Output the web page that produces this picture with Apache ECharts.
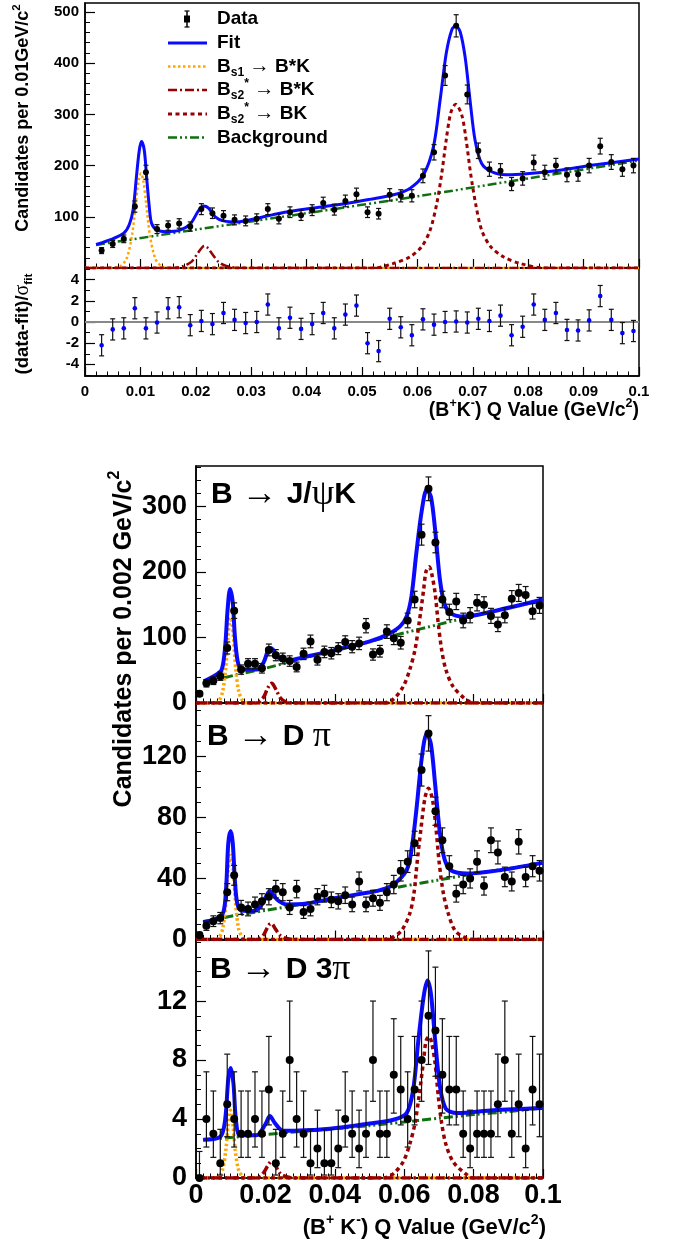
<!DOCTYPE html>
<html><head><meta charset="utf-8">
<script src="https://cdn.jsdelivr.net/npm/echarts@6/dist/echarts.min.js"></script>
<style>html,body{margin:0;padding:0;background:#fff}#c{width:681px;height:1245px}</style>
</head><body><div id="c"></div>
<script>
// ---------------- DATA ----------------
// Top panel (all B+K- combined)
const topX = [0.003,0.005,0.007,0.009,0.011,0.013,0.015,0.017,0.019,0.021,0.023,0.025,0.027,0.029,0.031,0.033,0.035,0.037,0.039,0.041,0.043,0.045,0.047,0.049,0.051,0.053,0.055,0.057,0.059,0.061,0.063,0.065,0.067,0.069,0.071,0.073,0.075,0.077,0.079,0.081,0.083,0.085,0.087,0.089,0.091,0.093,0.095,0.097,0.099];
const topCounts = [34,47,57,120,187,76,83,87,81,115,107,102,94,92,96,115,96,109,103,113,127,114,131,144,109,106,143,141,141,180,226,376,473,339,229,193,190,164,175,206,187,200,182,183,200,238,207,193,200];
const topErr = [5.8,6.9,7.5,11,13.7,8.7,9.1,9.3,9,10.7,10.3,10.1,9.7,9.6,9.8,10.7,9.8,10.4,10.1,10.6,11.3,10.7,11.4,12,10.4,10.3,12,11.9,11.9,13.4,15,19.4,21.7,18.4,15.1,13.9,13.8,12.8,13.2,14.4,13.7,14.1,13.5,13.5,14.1,15.4,14.4,13.9,14.1];
const resVals = [-2.2,-0.7,-0.6,1.3,-0.6,-0.05,1.3,1.4,-0.3,0.1,-0.2,0.85,0.2,-0.1,0,1.65,-0.6,0.4,-0.65,-0.2,0.85,-0.6,0.7,1.55,-2.0,-2.75,0.3,-0.5,-1.25,0.25,-0.25,0,0.05,-0.05,0.3,0.1,0.6,-1.25,-0.45,1.65,0.2,0.85,-0.75,-0.8,0.15,2.45,0.2,-1.05,-0.85];
const resErr = [1,1,1,1,1,1,1,1,1,1,1,1,1,1,1,1,1,1,1,1,1,1,1,1,1,1,1,1,1,1,1,1,1,1,1,1,1,1,1,1,1,1,1,1,1,1,1,1,1];
const resZero = [[0,0],[0.1,0]];

const topFit = [[0.002,46],[0.005,57],[0.007,68],[0.008,85],[0.0087,115],[0.0093,180],[0.0098,230],[0.0102,247],[0.0107,230],[0.0111,180],[0.0116,120],[0.012,88],[0.0129,75],[0.0147,71],[0.0171,74],[0.019,86],[0.0205,112],[0.0214,121],[0.0223,117],[0.0235,100],[0.025,92],[0.0274,90],[0.031,97],[0.0352,107],[0.0412,117],[0.0472,126],[0.0514,134],[0.0557,143],[0.0587,156],[0.0611,182],[0.0629,237],[0.0641,328],[0.0652,419],[0.0662,465],[0.0669,473],[0.0677,462],[0.0686,413],[0.0695,328],[0.0704,250],[0.0716,204],[0.0734,188],[0.0761,182],[0.0797,184],[0.0857,191],[0.0918,201],[0.1,213]];
const topBkg = [[0.002,45],[0.02,75],[0.04,107],[0.06,140],[0.08,175],[0.1,210]];
const topBs1 = [[0,0],[0.005,0],[0.0063,3],[0.0075,18],[0.0085,65],[0.0092,130],[0.0097,172],[0.0101,185],[0.0105,172],[0.011,130],[0.0117,65],[0.0127,18],[0.0139,3],[0.0155,0],[0.1,0]];
const topBs2BstarK = [[0,0],[0.016,0],[0.0178,4],[0.0192,12],[0.0203,28],[0.0212,41],[0.0216,43],[0.0221,40],[0.023,27],[0.0241,12],[0.0255,4],[0.028,0],[0.1,0]];
const topBs2BK = [[0,0],[0.052,0],[0.0557,9],[0.0587,22],[0.0608,42],[0.0623,74],[0.0635,126],[0.0644,185],[0.0652,250],[0.066,302],[0.0669,320],[0.068,299],[0.0688,250],[0.0696,185],[0.0705,126],[0.0716,74],[0.0732,42],[0.0755,22],[0.0785,9],[0.083,0],[0.1,0]];

// Lower panels (per decay mode)
const lowX = [0.001,0.003,0.005,0.007,0.009,0.011,0.013,0.015,0.017,0.019,0.021,0.023,0.025,0.027,0.029,0.031,0.033,0.035,0.037,0.039,0.041,0.043,0.045,0.047,0.049,0.051,0.053,0.055,0.057,0.059,0.061,0.063,0.065,0.067,0.069,0.071,0.073,0.075,0.077,0.079,0.081,0.083,0.085,0.087,0.089,0.091,0.093,0.095,0.097,0.099];

const jpsiCounts = [14,30,34,41,84,141,51,60,60,53,81,73,68,64,55,75,94,66,78,76,83,93,86,91,118,74,79,109,99,92,126,158,257,327,245,158,139,155,126,134,153,150,133,120,134,159,168,165,140,149];
const jpsiErr = [3.7,5.5,5.8,6.4,9.2,11.9,7.1,7.7,7.7,7.3,9,8.5,8.2,8,7.4,8.7,9.7,8.1,8.8,8.7,9.1,9.6,9.3,9.5,10.9,8.6,8.9,10.4,9.9,9.6,11.2,12.6,16,18.1,15.7,12.6,11.8,12.4,11.2,11.6,12.4,12.2,11.5,11,11.6,12.6,13,12.8,11.8,12.2];
const jpsiFit = [[0.0023,33],[0.0054,41.7],[0.0074,51],[0.0084,86],[0.0091,142],[0.0098,174],[0.0106,153],[0.0112,102],[0.012,64],[0.0131,52],[0.0174,51],[0.0194,61],[0.0213,84],[0.0221,82],[0.0237,69],[0.0261,65],[0.0319,71],[0.0395,80],[0.0501,94],[0.055,104],[0.0588,117],[0.0607,132],[0.0621,163],[0.0635,229],[0.0651,295],[0.0665,326],[0.0677,315],[0.0689,265],[0.0703,188],[0.0717,150],[0.0737,136],[0.0771,132],[0.0856,140],[0.0999,158]];
const jpsiBkg = [[0.002,30],[0.01,41],[0.02,53],[0.03,67],[0.04,81],[0.05,94],[0.06,107],[0.07,120],[0.08,133],[0.09,145],[0.1,157]];
const jpsiBs1 = [[0,0],[0.0055,0],[0.0066,3],[0.0077,18],[0.0086,55],[0.0092,100],[0.0097,127],[0.01,130],[0.0103,127],[0.0108,100],[0.0114,55],[0.0123,18],[0.0135,3],[0.0147,0],[0.1,0]];
const jpsiBs2BstarK = [[0,0],[0.017,0],[0.0185,3],[0.0196,10],[0.0206,22],[0.0214,29],[0.0218,30],[0.0223,28],[0.0232,19],[0.0243,8],[0.0258,2],[0.028,0],[0.1,0]];
const jpsiBs2BK = [[0,0],[0.054,0],[0.0569,6],[0.0597,25],[0.0616,51],[0.0631,81],[0.0643,122],[0.0656,173],[0.0663,201],[0.0672,208],[0.0679,198],[0.0689,168],[0.0698,122],[0.0708,81],[0.072,51],[0.0741,25],[0.0776,6],[0.08,0],[0.1,0]];

const dpiCounts = [3,9,12,14,31,42,21,20,23,25,28,33,31,21,33,18,20,28,30,26,25,29,23,38,23,27,24,31,36,45,51,63,111,135,84,65,48,30,36,40,51,35,65,57,41,38,64,41,48,45];
const dpiErr = [1.7,3,3.5,3.7,5.6,6.5,4.6,4.5,4.8,5,5.3,5.7,5.6,4.6,5.7,4.2,4.5,5.3,5.5,5.1,5,5.4,4.8,6.2,4.8,5.2,4.9,5.6,6,6.7,7.1,7.9,10.5,11.6,9.2,8.1,6.9,5.5,6,6.3,7.1,5.9,8.1,7.5,6.4,6.2,8,6.4,6.9,6.7];
const dpiFit = [[0.0021,11.5],[0.006,13.8],[0.0079,18],[0.0087,34.4],[0.0093,63],[0.01,71],[0.0106,63],[0.0112,39],[0.0119,23.6],[0.0131,19],[0.0165,18.7],[0.019,23],[0.0213,31.8],[0.0234,26],[0.0261,23],[0.0319,23.6],[0.0395,26.8],[0.0501,31],[0.0531,32.3],[0.0569,36],[0.0607,45.4],[0.0621,58.5],[0.0635,84.7],[0.0651,119.6],[0.0665,135],[0.0677,128],[0.0689,102],[0.0703,69.4],[0.0717,52],[0.0737,45],[0.078,43.2],[0.0876,45.4],[0.0999,50.2]];
const dpiBkg = [[0.002,11.5],[0.01,15.2],[0.02,19],[0.03,23],[0.04,27],[0.05,31],[0.06,35],[0.07,39],[0.08,43],[0.09,46.5],[0.1,50]];
const dpiBs1 = [[0,0],[0.0055,0],[0.0066,1],[0.0077,7],[0.0086,24],[0.0092,44],[0.0097,53],[0.01,55],[0.0103,53],[0.0108,44],[0.0114,24],[0.0123,7],[0.0135,1],[0.0147,0],[0.1,0]];
const dpiBs2BstarK = [[0,0],[0.017,0],[0.0185,1],[0.0196,3.5],[0.0205,7.5],[0.0212,10],[0.0216,10.5],[0.0221,9.8],[0.023,6.5],[0.0241,3],[0.0256,1],[0.028,0],[0.1,0]];
const dpiBs2BK = [[0,0],[0.054,0],[0.0569,1.7],[0.0593,6],[0.0616,17],[0.0628,30],[0.0637,50],[0.0648,72],[0.066,93],[0.067,99],[0.0682,91],[0.0692,72],[0.0701,50],[0.0713,30],[0.0727,17],[0.0746,6],[0.0771,1.7],[0.08,0],[0.1,0]];

const d3Counts = [0,4,3,1,5,4,3,3,4,3,6,1,3,8,4,3,1,2,1,1,2,4,3,2,3,8,3,3,7,6,4,6,8,11,10,7,6,6,3,2,3,3,3,5,8,3,5,2,6,5];
const d3ErrLo = [0,1.9,1.6,0.8,2.2,1.9,1.6,1.6,1.9,1.6,2.4,0.8,1.6,2.8,1.9,1.6,0.8,1.3,0.8,0.8,1.3,1.9,1.6,1.3,1.6,2.8,1.6,1.6,2.6,2.4,1.9,2.4,2.8,3.3,3.1,2.6,2.4,2.4,1.6,1.3,1.6,1.6,1.6,2.2,2.8,1.6,2.2,1.3,2.4,2.2];
const d3ErrHi = [1.8,3.2,2.9,2.3,3.4,3.2,2.9,2.9,3.2,2.9,3.6,2.3,2.9,4,3.2,2.9,2.3,2.6,2.3,2.3,2.6,3.2,2.9,2.6,2.9,4,2.9,2.9,3.8,3.6,3.2,3.6,4,4.4,4.3,3.8,3.6,3.6,2.9,2.6,2.9,2.9,2.9,3.4,4,2.9,3.4,2.6,3.6,3.4];
const d3Fit = [[0.0021,2.6],[0.007,2.8],[0.0084,3.95],[0.0093,6.7],[0.01,7.46],[0.0108,6.4],[0.0115,3.95],[0.0127,2.9],[0.0174,2.9],[0.0199,3.6],[0.0213,4.2],[0.0228,3.7],[0.0251,3.2],[0.0367,3.3],[0.0501,3.7],[0.0569,3.95],[0.0607,4.4],[0.0626,6.0],[0.064,9.15],[0.0656,12.3],[0.0667,13.4],[0.0677,12.5],[0.0689,9.4],[0.0703,6.2],[0.072,4.7],[0.0751,4.4],[0.0856,4.6],[0.0999,4.75]];
const d3Bkg = [[0.002,2.6],[0.01,2.75],[0.02,2.95],[0.03,3.15],[0.04,3.35],[0.05,3.55],[0.06,3.8],[0.07,4.05],[0.08,4.3],[0.09,4.5],[0.1,4.75]];
const d3Bs1 = [[0,0],[0.0055,0],[0.0066,0.1],[0.0077,0.6],[0.0086,1.9],[0.0092,3.5],[0.0096,4.4],[0.0099,4.6],[0.0102,4.4],[0.0107,3.5],[0.0113,1.9],[0.0122,0.6],[0.0134,0.1],[0.0147,0],[0.1,0]];
const d3Bs2BstarK = [[0,0],[0.017,0],[0.0185,0.1],[0.0196,0.4],[0.0206,0.8],[0.0214,1.08],[0.0218,1.13],[0.0223,1.05],[0.0232,0.7],[0.0243,0.3],[0.0258,0.1],[0.028,0],[0.1,0]];
const d3Bs2BK = [[0,0],[0.054,0],[0.0569,0.3],[0.0597,1.1],[0.0616,2.3],[0.0631,3.7],[0.0643,5.6],[0.0656,8.0],[0.0663,9.3],[0.0672,9.6],[0.0679,9.2],[0.0689,7.8],[0.0698,5.6],[0.0708,3.7],[0.072,2.3],[0.0741,1.1],[0.0776,0.3],[0.08,0],[0.1,0]];

// Tick labels
const topYLabels = [100,200,300,400,500];
const topYTicks = [0,100,200,300,400,500];
const resYLabels = [-4,-2,0,2,4];
const jpsiYLabels = [0,100,200,300];
const dpiYLabels = [0,40,80,120];
const d3YLabels = [0,4,8,12];

// ---------------- HELPERS ----------------
const FONT = '"Liberation Sans", Arial, Helvetica, sans-serif';
const SYM = '"Liberation Serif", "DejaVu Serif", serif';
const C_FIT = '#0a0aff', C_OR = '#ffa500', C_RED = '#990000', C_GRN = '#0f700f';
const DASH_OR = [2.5, 2.5], DASH_DD = [9, 3, 2, 3], DASH_RED = [4, 3.5], DASH_GRN = [9, 3, 2, 3, 2, 3];

function steps(a, b, s) { const r = []; for (let v = a; v <= b + 1e-9; v += s) r.push(+v.toFixed(6)); return r; }

const mctx = document.createElement('canvas').getContext('2d');
function tw(t, font) { mctx.font = font; return mctx.measureText(t).width; }

function richText(parts, size, x, y, align, rotation, symScale) {
  const items = []; let cx = 0;
  for (const p of parts) {
    const k = p.k || 'n';
    let fs = k === 'n' ? size : size * 0.64;
    if (p.sym) fs *= (symScale || 1.08);
    const dy = k === 'sub' ? size * 0.3 : (k === 'sup' ? -size * 0.36 : 0);
    const font = (p.sym ? 'normal ' : 'bold ') + fs.toFixed(2) + 'px ' + (p.sym ? SYM : FONT);
    const w = tw(p.t, font);
    items.push({ x: cx, y: dy, t: p.t, font: font });
    cx += w;
  }
  const off = align === 'right' ? -cx : (align === 'center' ? -cx / 2 : 0);
  return {
    type: 'group', x: x, y: y, rotation: rotation || 0, silent: true,
    children: items.map(it => ({
      type: 'text', x: it.x + off, y: it.y,
      style: { text: it.t, font: it.font, fill: '#000', textVerticalAlign: 'middle', verticalAlign: 'middle', textAlign: 'left', align: 'left' }
    }))
  };
}

function errRender(r, cap, fill, bar) {
  return function (params, api) {
    const x = api.value(0), y = api.value(1), lo = api.value(2), hi = api.value(3);
    const p = api.coord([x, y]), a = api.coord([x, y - lo]), b = api.coord([x, y + hi]);
    const st = { stroke: bar, lineWidth: 1.2 };
    return {
      type: 'group', children: [
        { type: 'line', shape: { x1: p[0], y1: a[1], x2: p[0], y2: b[1] }, style: st },
        { type: 'line', shape: { x1: p[0] - cap, y1: a[1], x2: p[0] + cap, y2: a[1] }, style: st },
        { type: 'line', shape: { x1: p[0] - cap, y1: b[1], x2: p[0] + cap, y2: b[1] }, style: st },
        { type: 'circle', shape: { cx: p[0], cy: p[1], r: r }, style: { fill: fill } }
      ]
    };
  };
}

function dataSeries(gi, xs, ys, lo, hi, r, cap, fill) {
  return {
    type: 'custom', xAxisIndex: gi, yAxisIndex: gi, z: 10, silent: true,
    renderItem: errRender(r, cap, fill, '#111'),
    encode: { x: 0, y: 1 },
    data: xs.map((x, i) => [x, ys[i], lo[i], hi[i]])
  };
}

function curve(gi, data, color, width, dash, z) {
  return {
    type: 'line', xAxisIndex: gi, yAxisIndex: gi, data: data, showSymbol: false, symbol: 'none',
    smooth: 0.3, silent: true, z: z, clip: true,
    lineStyle: { color: color, width: width, type: dash || 'solid', cap: 'butt' }
  };
}

function xAx(gi, interval, split, showLabels, fs, margin) {
  return {
    type: 'value', gridIndex: gi, min: 0, max: 0.1, interval: interval,
    axisLine: { show: true, onZero: false, lineStyle: { color: '#000', width: 1.5 } },
    axisTick: { show: true, inside: true, length: 9, lineStyle: { color: '#000', width: 1.2 } },
    minorTick: { show: true, splitNumber: split, length: 4.5, lineStyle: { color: '#000', width: 1 } },
    splitLine: { show: false }, minorSplitLine: { show: false },
    axisLabel: { show: showLabels, fontSize: fs, fontWeight: 'bold', fontFamily: FONT, color: '#000', margin: margin,
      formatter: v => String(+(+v).toFixed(3)) }
  };
}

function yAx(gi, min, max, ticks, labels, fs, margin, tickLen) {
  return {
    type: 'value', gridIndex: gi, min: min, max: max, position: 'left',
    axisLine: { show: true, onZero: false, lineStyle: { color: '#000', width: 1.5 } },
    axisTick: { show: true, inside: true, length: tickLen, customValues: ticks, lineStyle: { color: '#000', width: 1.2 } },
    axisLabel: { show: true, customValues: labels, fontSize: fs, fontWeight: 'bold', fontFamily: FONT, color: '#000', margin: margin },
    splitLine: { show: false }
  };
}
function yMinor(gi, min, max, ticks, len) {
  return {
    type: 'value', gridIndex: gi, min: min, max: max, position: 'left', offset: 0,
    axisLine: { show: false, onZero: false },
    axisTick: { show: true, inside: true, length: len, customValues: ticks, lineStyle: { color: '#000', width: 1 } },
    axisLabel: { show: false }, splitLine: { show: false }
  };
}

// ---------------- LAYOUT ----------------
const grids = [
  { left: 85, top: 3, width: 554, height: 265 },
  { left: 85, top: 268, width: 554, height: 108 },
  { left: 196, top: 466, width: 347, height: 237 },
  { left: 196, top: 703, width: 347, height: 236.5 },
  { left: 196, top: 940, width: 347, height: 238 }
].map(g => Object.assign({ show: true, borderColor: '#000', borderWidth: 1.5, backgroundColor: 'transparent' }, g));

const TOPMAX = 517.6, RES = 5.1, JMAX = 361.8, DMAX = 154.9, D3MAX = 16.14;

const xAxes = [
  xAx(0, 0.01, 5, false, 15, 8),
  xAx(1, 0.01, 5, true, 15, 8),
  xAx(2, 0.02, 10, false, 27, 4),
  xAx(3, 0.02, 10, false, 27, 4),
  xAx(4, 0.02, 10, true, 27, 4)
];
const yAxes = [
  yAx(0, 0, TOPMAX, topYTicks, topYLabels, 15, 6, 10),
  yAx(1, -RES, RES, resYLabels, resYLabels, 15, 6, 10),
  yAx(2, 0, JMAX, jpsiYLabels, jpsiYLabels, 27, 9, 10),
  yAx(3, 0, DMAX, dpiYLabels, dpiYLabels, 27, 9, 10),
  yAx(4, 0, D3MAX, d3YLabels, d3YLabels, 27, 9, 10),
  yMinor(0, 0, TOPMAX, steps(0, 500, 20), 5),
  yMinor(1, -RES, RES, steps(-5, 5, 1), 5),
  yMinor(2, 0, JMAX, steps(0, 360, 20), 5),
  yMinor(3, 0, DMAX, steps(0, 150, 10), 5),
  yMinor(4, 0, D3MAX, steps(0, 16, 1), 5)
];

const series = [
  // top
  curve(0, topBkg, C_GRN, 2.5, DASH_GRN, 2),
  curve(0, topBs1, C_OR, 2.5, DASH_OR, 3),
  curve(0, topBs2BstarK, C_RED, 2.5, DASH_DD, 3),
  curve(0, topBs2BK, C_RED, 3, DASH_RED, 4),
  curve(0, topFit, C_FIT, 3, 'solid', 5),
  dataSeries(0, topX, topCounts, topErr, topErr, 3, 2.5, '#000'),
  // residual
  { type: 'line', xAxisIndex: 1, yAxisIndex: 1, data: resZero, showSymbol: false, symbol: 'none', silent: true, z: 1,
    lineStyle: { color: '#888', width: 2 } },
  dataSeries(1, topX, resVals, resErr, resErr, 2.3, 2.5, '#0000ff'),
  // J/psi K
  curve(2, jpsiBkg, C_GRN, 3, DASH_GRN, 2),
  curve(2, jpsiBs1, C_OR, 3.5, DASH_OR, 3),
  curve(2, jpsiBs2BstarK, C_RED, 3.5, DASH_DD, 3),
  curve(2, jpsiBs2BK, C_RED, 3.5, DASH_RED, 4),
  curve(2, jpsiFit, C_FIT, 4, 'solid', 5),
  dataSeries(2, lowX, jpsiCounts, jpsiErr, jpsiErr, 4, 3, '#000'),
  // D pi
  curve(3, dpiBkg, C_GRN, 3, DASH_GRN, 2),
  curve(3, dpiBs1, C_OR, 3.5, DASH_OR, 3),
  curve(3, dpiBs2BstarK, C_RED, 3.5, DASH_DD, 3),
  curve(3, dpiBs2BK, C_RED, 3.5, DASH_RED, 4),
  curve(3, dpiFit, C_FIT, 4, 'solid', 5),
  dataSeries(3, lowX, dpiCounts, dpiErr, dpiErr, 4, 3, '#000'),
  // D 3pi
  curve(4, d3Bkg, C_GRN, 3, DASH_GRN, 2),
  curve(4, d3Bs1, C_OR, 3.5, DASH_OR, 3),
  curve(4, d3Bs2BstarK, C_RED, 3.5, DASH_DD, 3),
  curve(4, d3Bs2BK, C_RED, 3.5, DASH_RED, 4),
  curve(4, d3Fit, C_FIT, 4, 'solid', 5),
  dataSeries(4, lowX, d3Counts, d3ErrLo, d3ErrHi, 4, 3, '#000')
];

// ---------------- TEXT / LEGEND ----------------
const ARW = ' \u2192 ';
const graphics = [];
const L_X1 = 168, L_X2 = 207, L_TX = 217, L_FS = 19;
const legendRows = [19, 43, 66.5, 90, 114, 137.5];
graphics.push({ type: 'line', shape: { x1: 187, y1: 11, x2: 187, y2: 27 }, style: { stroke: '#000', lineWidth: 1.5 }, silent: true });
graphics.push({ type: 'line', shape: { x1: 184.5, y1: 11, x2: 189.5, y2: 11 }, style: { stroke: '#000', lineWidth: 1.2 }, silent: true });
graphics.push({ type: 'line', shape: { x1: 184.5, y1: 27, x2: 189.5, y2: 27 }, style: { stroke: '#000', lineWidth: 1.2 }, silent: true });
graphics.push({ type: 'rect', shape: { x: 184, y: 15.5, width: 6, height: 7 }, style: { fill: '#000' }, silent: true });
const legLines = [
  [C_FIT, 3, null],
  [C_OR, 2.5, DASH_OR],
  [C_RED, 2.5, DASH_DD],
  [C_RED, 3, DASH_RED],
  [C_GRN, 2.5, DASH_GRN]
];
legLines.forEach((d, i) => {
  const y = legendRows[i + 1];
  graphics.push({ type: 'line', shape: { x1: L_X1, y1: y, x2: L_X2, y2: y },
    style: { stroke: d[0], lineWidth: d[1], lineDash: d[2] || null }, silent: true });
});
const legTexts = [
  [{ t: 'Data' }],
  [{ t: 'Fit' }],
  [{ t: 'B' }, { t: 's1', k: 'sub' }, { t: ARW, sym: true }, { t: 'B*K' }],
  [{ t: 'B' }, { t: 's2', k: 'sub' }, { t: '*', k: 'sup' }, { t: ARW, sym: true }, { t: 'B*K' }],
  [{ t: 'B' }, { t: 's2', k: 'sub' }, { t: '*', k: 'sup' }, { t: ARW, sym: true }, { t: 'BK' }],
  [{ t: 'Background' }]
];
legTexts.forEach((p, i) => graphics.push(richText(p, L_FS, L_TX, legendRows[i], 'left', 0)));

// axis titles
graphics.push(richText([{ t: 'Candidates per 0.01GeV/c' }, { t: '2', k: 'sup' }], 18, 23, 118, 'center', Math.PI / 2));
graphics.push(richText([{ t: '(data-fit)/' }, { t: '\u03c3', sym: true }, { t: 'fit', k: 'sub' }], 18.5, 23, 324, 'center', Math.PI / 2));
graphics.push(richText([{ t: '(B' }, { t: '+', k: 'sup' }, { t: 'K' }, { t: '-', k: 'sup' }, { t: ') Q Value (GeV/c' }, { t: '2', k: 'sup' }, { t: ')' }], 19.5, 639, 411, 'right', 0));
graphics.push(richText([{ t: 'Candidates per 0.002 GeV/c' }, { t: '2', k: 'sup' }], 25, 124, 639, 'center', Math.PI / 2));
graphics.push(richText([{ t: '(B' }, { t: '+', k: 'sup' }, { t: ' K' }, { t: '-', k: 'sup' }, { t: ') Q Value (GeV/c' }, { t: '2', k: 'sup' }, { t: ')' }], 22, 546, 1228, 'right', 0));
// panel labels
graphics.push(richText([{ t: 'B' }, { t: ARW, sym: true }, { t: 'J/' }, { t: '\u03c8', sym: true }, { t: 'K' }], 30, 211, 495, 'left', 0, 1.2));
graphics.push(richText([{ t: 'B' }, { t: ARW, sym: true }, { t: 'D ' }, { t: '\u03c0', sym: true }], 30, 207, 737, 'left', 0, 1.2));
graphics.push(richText([{ t: 'B' }, { t: ARW, sym: true }, { t: 'D 3' }, { t: '\u03c0', sym: true }], 30, 210, 970, 'left', 0, 1.2));

const chart = echarts.init(document.getElementById('c'), null, { renderer: 'canvas' });
chart.setOption({
  animation: false,
  backgroundColor: '#fff',
  grid: grids,
  xAxis: xAxes,
  yAxis: yAxes,
  series: series,
  graphic: { elements: graphics }
});
</script></body></html>
